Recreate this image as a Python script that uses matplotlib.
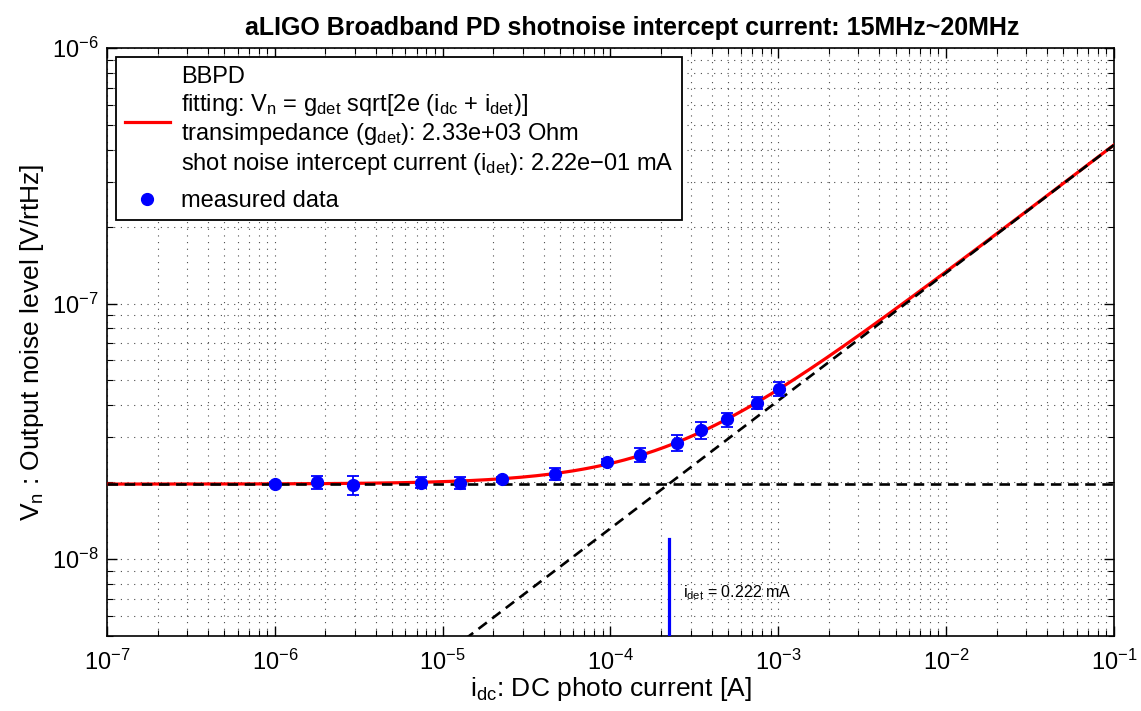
import numpy as np
import matplotlib
matplotlib.use('Agg')
import matplotlib.pyplot as plt
from matplotlib.ticker import LogLocator, LogFormatterMathtext, NullFormatter

plt.rcParams['font.family'] = ['Liberation Sans', 'DejaVu Sans']
plt.rcParams['mathtext.fontset'] = 'custom'
plt.rcParams['mathtext.rm'] = 'Liberation Sans'
plt.rcParams['mathtext.it'] = 'Liberation Sans'
plt.rcParams['mathtext.default'] = 'regular'

# fitted parameters
g_det = 2.33e3        # transimpedance [Ohm]
i_det = 2.22e-4       # shot noise intercept current [A]
q_e = 1.602e-19       # electron charge

i_dc = [1.00e-6, 1.79e-6, 2.91e-6, 7.43e-6, 1.27e-5, 2.25e-5, 4.67e-5,
        9.57e-5, 1.50e-4, 2.48e-4, 3.46e-4, 4.92e-4, 7.50e-4, 1.01e-3]
v_n = [1.97e-8, 2.00e-8, 1.95e-8, 1.99e-8, 1.99e-8, 2.05e-8, 2.15e-8,
       2.40e-8, 2.55e-8, 2.85e-8, 3.19e-8, 3.52e-8, 4.07e-8, 4.64e-8]
v_err = [0.03e-8, 0.12e-8, 0.17e-8, 0.10e-8, 0.11e-8, 0.04e-8, 0.12e-8,
         0.06e-8, 0.16e-8, 0.21e-8, 0.25e-8, 0.22e-8, 0.22e-8, 0.30e-8]

x_ticks = [1e-7, 1e-6, 1e-5, 1e-4, 1e-3, 1e-2, 1e-1]
y_ticks = [1e-8, 1e-7, 1e-6]

i_fit = np.logspace(-7, -1, 400)
v_fit = g_det * np.sqrt(2 * q_e * (i_fit + i_det))
v_floor = g_det * np.sqrt(2 * q_e * i_det) * np.ones_like(i_fit)
v_shot = g_det * np.sqrt(2 * q_e * i_fit)

fig = plt.figure(figsize=(11.41, 7.11), dpi=100)
ax = fig.add_axes([0.0938, 0.1055, 0.8825, 0.827])

lab = ('BBPD\n'
       'fitting: $V_n$ = $g_{det}$ sqrt[2e ($i_{dc}$ + $i_{det}$)]\n'
       'transimpedance ($g_{det}$): 2.33e+03 Ohm\n'
       'shot noise intercept current ($i_{det}$): 2.22e\u221201 mA')
ax.plot(i_fit, v_fit, color='red', lw=2.3, label=lab, zorder=3)
ax.plot(i_fit, v_floor, color='k', lw=1.9, dashes=(4, 2.5), zorder=4)
ax.plot(i_fit, v_shot, color='k', lw=1.9, dashes=(4, 2.5), zorder=4)
ax.errorbar(i_dc, v_n, yerr=v_err, fmt='o', color='blue', ms=8.5,
            ecolor='blue', elinewidth=1.3, capsize=4.5, capthick=1.3,
            zorder=5)
ax.plot([], [], 'o', color='blue', ms=8.5, label='measured data')

# intercept marker
ax.plot([i_det, i_det], [5e-9, 1.2e-8], color='blue', lw=2.3, zorder=5)
ax.text(2.7e-4, 7.4e-9, '$i_{det}$ = 0.222 mA', fontsize=11.5,
        va='center', ha='left')

ax.set_xscale('log')
ax.set_yscale('log')
ax.set_xlim(1e-7, 1e-1)
ax.set_ylim(5e-9, 1e-6)

ax.set_xticks(x_ticks)
ax.set_yticks(y_ticks)
for axis in (ax.xaxis, ax.yaxis):
    axis.set_minor_locator(LogLocator(base=10, subs=np.arange(2, 10), numticks=20))
    axis.set_major_formatter(LogFormatterMathtext())
    axis.set_minor_formatter(NullFormatter())

ax.tick_params(which='both', direction='in', top=True, right=True)
ax.tick_params(which='major', length=7, width=1, labelsize=17)
ax.tick_params(axis='x', which='major', pad=10)
ax.tick_params(axis='y', which='major', pad=6)
ax.tick_params(which='minor', length=4, width=0.8)
ax.grid(True, which='both', color='k', linestyle=(0, (1, 5)), linewidth=0.8, alpha=0.7)
for s in ax.spines.values():
    s.set_linewidth(1.2)

ax.set_xlabel('$i_{dc}$: DC photo current [A]', fontsize=19, labelpad=0)
ax.set_ylabel('$V_n$ : Output noise level [V/rtHz]', fontsize=19, labelpad=4)
ax.set_title('aLIGO Broadband PD shotnoise intercept current: 15MHz~20MHz',
             fontsize=18, fontweight='bold', pad=9, x=0.522)

leg = ax.legend(loc='upper left', fontsize=17, fancybox=False, framealpha=1,
                edgecolor='k', borderaxespad=0.4, handlelength=1.9,
                handletextpad=0.5, labelspacing=0.55, borderpad=0.35)
leg.get_frame().set_linewidth(1.3)

fig.savefig('out.png', dpi=100)
